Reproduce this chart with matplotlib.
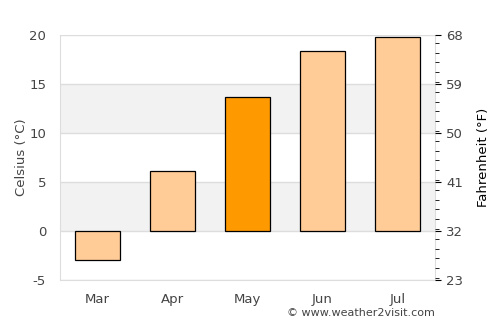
import numpy as np
import matplotlib.pyplot as plt
from matplotlib.ticker import MultipleLocator

months = ["Mar", "Apr", "May", "Jun", "Jul"]
celsius = [-2.9, 6.1, 13.7, 18.4, 19.8]
highlight = "May"

c_ticks = [-5, 0, 5, 10, 15, 20]
f_ticks = [23, 32, 41, 50, 59, 68]

light = "#ffcb96"
strong = "#ff9900"
txt = "#444444"
gridc = "#dddddd"


def main():
	fig = plt.figure(figsize=(5, 3.25), dpi=100)
	ax = fig.add_axes([0.12, 0.138, 0.75, 0.754])

	# grey bands
	for lo in (0, 10):
		ax.axhspan(lo, lo + 5, color="#f2f2f2", zorder=0, lw=0)
	for t in c_ticks:
		ax.axhline(t, color=gridc, lw=1, zorder=1)

	x = np.arange(len(months))
	cols = [strong if m == highlight else light for m in months]
	ax.bar(x, celsius, width=0.6, color=cols, edgecolor="black", linewidth=0.9, zorder=3)

	ax.set_xlim(-0.5, len(months) - 0.5)
	ax.set_ylim(-5, 20)
	ax.set_yticks(c_ticks)
	ax.set_yticklabels([str(t) for t in c_ticks])
	ax.set_xticks(x)
	ax.set_xticklabels(months)
	ax.tick_params(axis="both", length=0, colors=txt, labelsize=9.5)
	ax.tick_params(axis="y", pad=10)
	ax.tick_params(axis="x", pad=9)
	ax.set_ylabel("Celsius (°C)", color=txt, fontsize=9.5, labelpad=1)
	for s in ["left", "bottom", "right"]:
		ax.spines[s].set_color(gridc)
	ax.spines["top"].set_visible(False)

	ax2 = ax.twinx()
	ax2.set_ylim(23, 68)
	ax2.set_yticks(f_ticks)
	ax2.yaxis.set_minor_locator(MultipleLocator(1.8))
	ax2.tick_params(axis="y", which="major", length=4, colors="black", labelcolor=txt, labelsize=9.5, pad=4)
	ax2.tick_params(axis="y", which="minor", length=3, color="black")
	ax2.set_ylabel("Fahrenheit (°F)", color="black", fontsize=9.5, labelpad=10)
	for s in ax2.spines.values():
		s.set_visible(False)

	fig.text(0.87, 0.02, "© www.weather2visit.com", ha="right", va="bottom", color=txt, fontsize=8)

	fig.savefig("out.png", dpi=100)


main()
